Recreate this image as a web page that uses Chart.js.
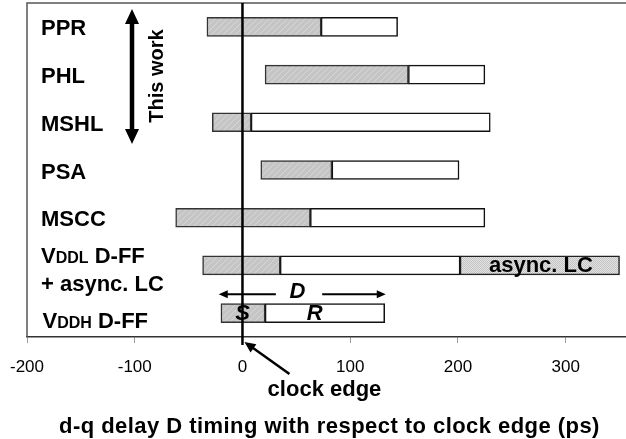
<!DOCTYPE html>
<html>
<head>
<meta charset="utf-8">
<script src="https://cdn.jsdelivr.net/npm/chart.js@4.4.1/dist/chart.umd.min.js"></script>
<style>
  body { margin: 0; background: #fff; }
</style>
</head>
<body>
<canvas id="timingChart" width="626" height="439"></canvas>
<script>
// data (ps)
const categories = ['PPR', 'PHL', 'MSHL', 'PSA', 'MSCC', 'VDDL D-FF + async. LC', 'VDDH D-FF'];
const setupStart = [-33, 21, -28, 17, -62, -37, -20];
const setupEnd = [73, 154, 8, 83, 63, 35, 21];
const delayEnd = [144, 225, 230, 201, 225, 202, 132];
const asyncStart = [null, null, null, null, null, 202, null];
const asyncEnd = [null, null, null, null, null, 350, null];
const xTicks = [-200, -100, 0, 100, 200, 300];
const xMin = -200;
const xMax = 356;

const FONT = '"Liberation Sans", Arial, sans-serif';

// fill patterns
function hatchPattern() {
    const c = document.createElement('canvas');
    c.width = 6; c.height = 6;
    const g = c.getContext('2d');
    g.fillStyle = '#c5c5c5';
    g.fillRect(0, 0, 6, 6);
    g.strokeStyle = '#d6d6d6';
    g.lineWidth = 1;
    g.beginPath();
    g.moveTo(0, 6); g.lineTo(6, 0);
    g.moveTo(-3, 3); g.lineTo(3, -3);
    g.moveTo(3, 9); g.lineTo(9, 3);
    g.stroke();
    return g.createPattern(c, 'repeat');
}
function dotPattern() {
    const c = document.createElement('canvas');
    c.width = 2; c.height = 2;
    const g = c.getContext('2d');
    g.fillStyle = '#e2e2e2';
    g.fillRect(0, 0, 2, 2);
    g.fillStyle = '#c4c4c4';
    g.fillRect(0, 0, 1, 1);
    g.fillRect(1, 1, 1, 1);
    return g.createPattern(c, 'repeat');
}

// small helpers for the drawn annotations
function arrowHead(ctx, x, y, angle, len, half) {
    ctx.save();
    ctx.translate(x, y);
    ctx.rotate(angle);
    ctx.beginPath();
    ctx.moveTo(0, 0);
    ctx.lineTo(-len, -half);
    ctx.lineTo(-len, half);
    ctx.closePath();
    ctx.fill();
    ctx.restore();
}
function arrow(ctx, x1, y1, x2, y2, width, len, half) {
    const a = Math.atan2(y2 - y1, x2 - x1);
    ctx.lineWidth = width;
    ctx.beginPath();
    ctx.moveTo(x1, y1);
    ctx.lineTo(x2 - Math.cos(a) * len * 0.8, y2 - Math.sin(a) * len * 0.8);
    ctx.stroke();
    arrowHead(ctx, x2, y2, a, len, half);
}
// draws text runs [text, size] one after another
function runs(ctx, parts, x, y, style) {
    parts.forEach(p => {
        ctx.font = (style || 'bold') + ' ' + p[1] + 'px ' + FONT;
        ctx.fillText(p[0], x, y);
        x += ctx.measureText(p[0]).width;
    });
}

const overlay = {
    id: 'overlay',
    beforeDatasetsDraw(chart) {
        const ctx = chart.ctx;
        const a = chart.chartArea;
        ctx.save();
        // frame (left and top)
        ctx.strokeStyle = '#555';
        ctx.lineWidth = 1.5;
        ctx.beginPath();
        ctx.moveTo(a.left, a.bottom);
        ctx.lineTo(a.left, a.top);
        ctx.lineTo(a.right, a.top);
        ctx.stroke();
        ctx.restore();
    },
    afterDatasetsDraw(chart) {
        const ctx = chart.ctx;
        const a = chart.chartArea;
        const x = chart.scales.x;
        const y = chart.scales.y;
        const x0 = x.getPixelForValue(0);
        ctx.save();
        ctx.fillStyle = '#000';
        ctx.strokeStyle = '#000';

        // clock edge line
        ctx.lineWidth = 2.5;
        ctx.beginPath();
        ctx.moveTo(x0, a.top);
        ctx.lineTo(x0, a.bottom + 8);
        ctx.stroke();

        // category labels drawn inside the plot
        ctx.textAlign = 'left';
        ctx.textBaseline = 'alphabetic';
        const lx = a.left + 14;
        categories.forEach((c, i) => {
            const cy = y.getPixelForValue(i);
            if (c.startsWith('VDDL')) {
                runs(ctx, [['V', 22], ['DDL', 16], [' D-FF', 22]], lx, cy - 2.5);
                runs(ctx, [['+ async. LC', 22]], lx, cy + 26);
            } else if (c.startsWith('VDDH')) {
                runs(ctx, [['V', 22], ['DDH', 16], [' D-FF', 22]], lx + 1.5, cy + 15);
            } else {
                runs(ctx, [[c, 22]], lx, cy + 8.5);
            }
        });

        // "This work" double arrow
        const ax = 132;
        ctx.lineWidth = 4.5;
        ctx.beginPath();
        ctx.moveTo(ax, 22);
        ctx.lineTo(ax, 131);
        ctx.stroke();
        arrowHead(ctx, ax, 9, -Math.PI / 2, 15, 7);
        arrowHead(ctx, ax, 144, Math.PI / 2, 15, 7);
        ctx.save();
        ctx.translate(157, 76);
        ctx.rotate(-Math.PI / 2);
        ctx.textAlign = 'center';
        ctx.textBaseline = 'middle';
        ctx.font = 'bold 20px ' + FONT;
        ctx.fillText('This work', 0, 0);
        ctx.restore();

        // D arrows above the VDDH D-FF bar
        const dy = y.getPixelForValue(6) - 19;
        ctx.textAlign = 'center';
        ctx.textBaseline = 'middle';
        ctx.font = 'italic bold 22px ' + FONT;
        ctx.fillText('D', x.getPixelForValue(51), dy - 2);
        arrow(ctx, x.getPixelForValue(31), dy, x.getPixelForValue(-22), dy, 2, 9, 4);
        arrow(ctx, x.getPixelForValue(74), dy, x.getPixelForValue(133), dy, 2, 9, 4);

        // S and R inside the VDDH bar
        const sy = y.getPixelForValue(6) + 1;
        ctx.fillText('S', x.getPixelForValue(0), sy);
        ctx.fillText('R', x.getPixelForValue(67), sy);

        // async. LC label
        ctx.font = 'bold 22px ' + FONT;
        ctx.fillText('async. LC', x.getPixelForValue(277), y.getPixelForValue(5) + 1);

        // clock edge pointer
        ctx.textBaseline = 'alphabetic';
        ctx.fillText('clock edge', x0 + 82, a.bottom + 59);
        arrow(ctx, x0 + 47, a.bottom + 37, x0 + 2, a.bottom + 5, 2.5, 11, 5);

        // axis title
        ctx.letterSpacing = '0.45px';
        ctx.fillText('d-q delay D timing with respect to clock edge (ps)', x0 + 87, a.bottom + 96);
        ctx.restore();
    }
};

const ctx = document.getElementById('timingChart').getContext('2d');
const timingChart = new Chart(ctx, {
    type: 'bar',
    data: {
        labels: categories,
        datasets: [
            {
                label: 'setup',
                data: categories.map((c, i) => [setupStart[i], setupEnd[i]]),
                backgroundColor: hatchPattern(),
                borderColor: '#333',
                borderWidth: 1.5,
                borderSkipped: false,
                barThickness: 19,
                grouped: false
            },
            {
                label: 'delay',
                data: categories.map((c, i) => [setupEnd[i], delayEnd[i]]),
                backgroundColor: '#fff',
                borderColor: '#111',
                borderWidth: 1.5,
                borderSkipped: false,
                barThickness: 19,
                grouped: false
            },
            {
                label: 'async. LC',
                data: categories.map((c, i) => asyncStart[i] === null ? null : [asyncStart[i], asyncEnd[i]]),
                backgroundColor: dotPattern(),
                borderColor: '#222',
                borderWidth: 1.5,
                borderSkipped: false,
                barThickness: 19,
                grouped: false
            }
        ]
    },
    options: {
        indexAxis: 'y',
        responsive: false,
        animation: false,
        layout: { padding: { left: 27, top: 3, right: 0, bottom: 0 } },
        plugins: {
            legend: { display: false },
            tooltip: { enabled: false }
        },
        scales: {
            x: {
                type: 'linear',
                min: xMin,
                max: xMax,
                afterBuildTicks: scale => { scale.ticks = xTicks.map(v => ({ value: v })); },
                afterFit: scale => {
                    scale.height = 102;
                    scale.paddingLeft = 0;
                    scale.paddingRight = 0;
                },
                grid: { drawOnChartArea: false, drawTicks: true, tickLength: 6, color: '#999', lineWidth: 1 },
                border: { color: '#333', width: 1.5 },
                ticks: {
                    padding: 14,
                    color: '#000',
                    font: { family: FONT, size: 17 },
                    maxRotation: 0
                }
            },
            y: {
                display: false,
                offset: true,
                grid: { display: false }
            }
        }
    },
    plugins: [overlay]
});
</script>
</body>
</html>
